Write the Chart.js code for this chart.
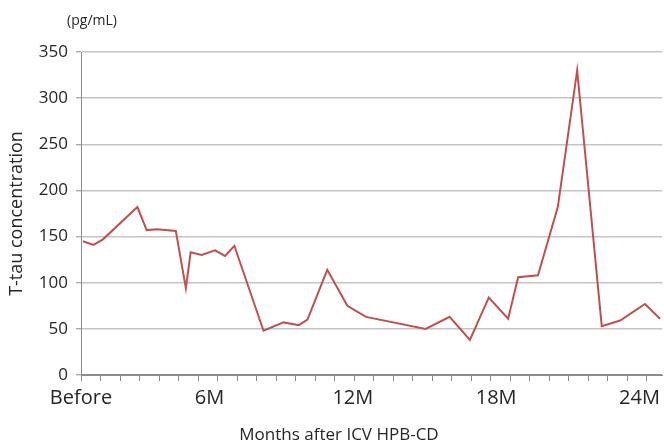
<!DOCTYPE html>
<html>
<head>
<meta charset="utf-8">
<script src="https://cdn.jsdelivr.net/npm/chart.js@4/dist/chart.umd.min.js"></script>
<style>
  html, body { margin: 0; padding: 0; background: #fff; }
  #wrap { width: 664px; height: 446px; }
</style>
</head>
<body>
<div id="wrap"><canvas id="c"></canvas></div>
<script>
// months after ICV HPB-CD and T-tau in pg/mL
const months = [0.70, 1.14, 1.54, 2.98, 3.37, 3.79, 4.59, 5.01, 5.21, 5.67, 6.23, 6.65, 7.04,
  8.26, 9.10, 9.74, 10.10, 10.93, 11.77, 12.55, 15.05, 16.05, 16.90, 17.69, 18.50, 18.92,
  19.75, 20.58, 21.39, 22.42, 23.19, 24.23, 24.86];
const ttau = [145, 141, 147, 182, 157, 158, 156, 94, 133, 130, 135, 129, 140,
  48, 57, 54, 60, 114, 75, 63, 50, 63, 38, 84, 61, 106,
  108, 182, 330, 53, 59, 77, 61];
const xLabels = ['Before', '6M', '12M', '18M', '24M'];
const xLabelMonths = [0.62, 6, 12, 18, 24];
const yTicks = [0, 50, 100, 150, 200, 250, 300, 350];

const X_MIN = 0.62, X_MAX = 24.95, MINOR_STEP = 0.817;
const FONT = "'Open Sans', 'Noto Sans', sans-serif";
const AXIS = '#8c8c8c';
const TEXT = '#262626';

// unit note above the y axis, and the x title (sits left of the plot centre in the original)
const extraText = {
  id: 'extraText',
  afterDraw(chart) {
    const ctx = chart.ctx;
    ctx.save();
    ctx.fillStyle = TEXT;
    ctx.textAlign = 'center';
    ctx.textBaseline = 'middle';
    ctx.font = `14px ${FONT}`;
    ctx.fillText('(pg/mL)', 92, 21);
    ctx.font = `17px ${FONT}`;
    ctx.fillText('Months after ICV HPB-CD', 339, 435);
    ctx.restore();
  }
};

new Chart(document.getElementById('c'), {
  type: 'line',
  data: {
    datasets: [{
      data: months.map((m, i) => ({ x: m, y: ttau[i] })),
      borderColor: '#c0504d',
      borderWidth: 2,
      pointRadius: 0,
      tension: 0,
      fill: false
    }]
  },
  options: {
    responsive: true,
    maintainAspectRatio: false,
    animation: false,
    layout: { padding: { top: 52, right: 0, left: 0, bottom: 0 } },
    plugins: { legend: { display: false }, tooltip: { enabled: false } },
    scales: {
      x: {
        type: 'linear',
        min: X_MIN,
        max: X_MAX,
        afterBuildTicks(scale) {
          const t = [];
          for (let k = 0; k < 30; k++) t.push({ value: X_MIN + k * MINOR_STEP });
          scale.ticks = t;
        },
        afterFit(scale) { scale.height = 7; },
        ticks: { display: false },
        grid: { drawOnChartArea: false, drawTicks: true, tickLength: 6, color: AXIS, lineWidth: 1 },
        border: { color: AXIS, width: 1 }
      },
      x2: {
        type: 'linear',
        position: 'bottom',
        min: X_MIN,
        max: X_MAX,
        afterBuildTicks(scale) {
          scale.ticks = xLabelMonths.map(v => ({ value: v }));
        },
        afterFit(scale) { scale.height = 64; },
        ticks: {
          autoSkip: false,
          maxRotation: 0,
          padding: 4,
          color: TEXT,
          font: { family: FONT, size: 20 },
          callback: (v, i) => xLabels[i]
        },
        grid: { display: false, drawTicks: false },
        border: { display: false }
      },
      y: {
        min: 0,
        max: 350,
        afterBuildTicks(scale) {
          scale.ticks = yTicks.map(v => ({ value: v }));
        },
        afterFit(scale) { scale.width = 81; },
        ticks: {
          color: TEXT,
          padding: 8,
          font: { family: FONT, size: 17 }
        },
        grid: {
          color: ctx => ctx.tick && ctx.tick.value === 0 ? AXIS : '#c4c4c4',
          lineWidth: 1.5,
          drawTicks: true,
          tickLength: 5,
          tickColor: AXIS,
          tickWidth: 1
        },
        border: { color: AXIS, width: 1 },
        title: {
          display: true,
          text: 'T-tau concentration',
          color: TEXT,
          font: { family: FONT, size: 18 },
          padding: { top: 6, bottom: 4 }
        }
      }
    }
  },
  plugins: [extraText]
});
</script>
</body>
</html>
